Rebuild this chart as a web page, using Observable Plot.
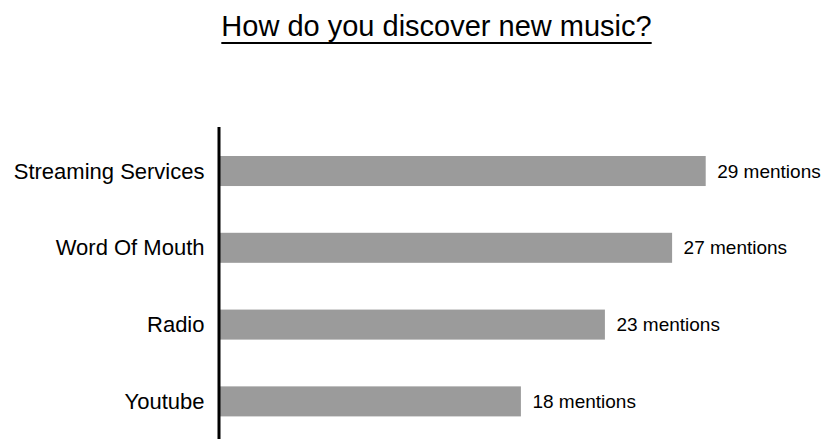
<!DOCTYPE html>
<html>
<head>
<meta charset="utf-8">
<script src="https://cdn.jsdelivr.net/npm/d3@7"></script>
<script src="https://cdn.jsdelivr.net/npm/@observablehq/plot@0.6"></script>
<style>
  html, body { margin: 0; padding: 0; background: #fff; }
  body { width: 821px; height: 439px; overflow: hidden; font-family: "Liberation Sans", Arial, sans-serif; }
  #title { height: 70px; box-sizing: border-box; padding-top: 12px; padding-left: 52px; text-align: center; font-size: 29px; line-height: 29px; color: #000; }
  #title span { text-decoration: underline; text-decoration-thickness: 2px; text-underline-offset: 6px; text-decoration-skip-ink: none; }
  svg { display: block; }
</style>
</head>
<body>
<div id="title"><span>How do you discover new music?</span></div>
<div id="chart"></div>
<script>
const categories = ["Streaming Services", "Word Of Mouth", "Radio", "Youtube"];
const mentions = [29, 27, 23, 18];
const labelSuffix = " mentions";

const data = categories.map((c, i) => ({category: c, value: mentions[i]}));

const chart = Plot.plot({
  width: 821,
  height: 369,
  marginLeft: 218.5,
  marginRight: 0,
  marginTop: 57,
  marginBottom: 0,
  style: {fontFamily: "'Liberation Sans', Arial, sans-serif", fontSize: "19px", color: "#000", background: "#fff"},
  x: {domain: [0, 29], range: [218.5, 705.7], axis: null},
  y: {domain: categories, range: [86, 346.4], paddingInner: 0.609, paddingOuter: 0, round: false, axis: null},
  marks: [
    Plot.barX(data, {x: "value", y: "category", fill: "#9b9b9b"}),
    Plot.text(data, {x: "value", y: "category", text: d => d.value + labelSuffix, textAnchor: "start", dx: 11, fontSize: 19, fill: "#000"}),
    Plot.axisY({tickSize: 0, tickPadding: 14.5, fontSize: 22, label: null, color: "#000"}),
    Plot.ruleX([0], {stroke: "#000", strokeWidth: 3})
  ]
});
document.getElementById("chart").appendChild(chart);
</script>
</body>
</html>
